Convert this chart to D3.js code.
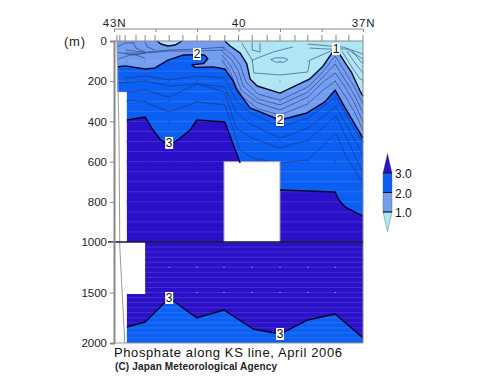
<!DOCTYPE html>
<meta charset="utf-8">
<style>
body { margin: 0; background: #fff; }
svg { display: block; }
.axis path, .axis line { stroke: #888; }
.axis text { font-family: "Liberation Sans", sans-serif; font-size: 11.5px; fill: #222; }
.thin { fill: none; stroke: #1c2f66; stroke-width: 0.8px; stroke-opacity: 0.7; stroke-linejoin: round; }
.thick { fill: none; stroke: #06062a; stroke-width: 1.4px; stroke-linejoin: round; }
.tag text { font-family: "Liberation Sans", sans-serif; font-size: 12px; fill: #111; text-anchor: middle; }
</style>
<svg width="500" height="387"></svg>
<script src="https://d3js.org/d3.v7.min.js"></script>
<script>

// every contour is a list of [latitude, depth in m]
var iso10East = [[40.33,0],[40.2,25],[39.96,60],[39.8,114],[39.72,189],[39.55,224],[39,259],[38.28,189],[37.96,124],[37.75,60],[37.65,30],[37.58,60],[37.43,109],[37.27,159],[37.07,249],[37,274]];
var iso10West = [[41.96,0],[41.87,15],[41.7,25],[41.53,20],[41.36,0]];
var iso20 = [[42.9,128],[42.73,124],[42.25,139],[42.01,134],[41.7,95],[41.34,70],[41,68],[40.82,70],[40.74,88],[40.84,112],[41.12,119],[41.05,131],[40.61,129],[40.33,139],[40.13,199],[40.04,244],[39.72,333],[39,393],[38.35,358],[37.92,303],[37.67,244],[37.43,333],[37,483]];
var iso30West = [[42.69,393],[42.25,378],[42.06,443],[41.87,493],[41.67,517],[41.46,493],[41.17,443],[41,393],[40.33,403],[39.96,607]];
var iso30East = [[39,741],[37.67,751],[37.58,791],[37.43,826],[37,871]];
var iso30Deep = [[42.69,1842],[42.25,1792],[41.67,1554],[41,1752],[40.35,1673],[39.65,1861],[39,1911],[38.33,1772],[37.67,1713],[37,1950]];

var thinLines = [
  // 1.2 to 1.8
  [[40.4,30],[40.16,65],[39.96,119],[39.82,204],[39.53,264],[39,294],[38.33,229],[37.99,159],[37.67,75],[37.43,154],[37.22,224],[37,313]],
  [[40.4,50],[40.18,90],[40.01,144],[39.89,224],[39.53,289],[39,318],[38.33,254],[37.99,184],[37.67,114],[37.43,194],[37.22,264],[37,358]],
  [[40.4,70],[40.2,119],[40.06,174],[39.94,244],[39.53,308],[39,343],[38.33,279],[37.99,209],[37.67,159],[37.43,229],[37.22,303],[37,403]],
  [[40.4,95],[40.2,154],[40.06,224],[39.89,279],[39.53,338],[39,368],[38.33,313],[37.99,249],[37.67,199],[37.43,274],[37.22,348],[37,443]],
  // 2.2 to 2.8
  [[42.73,184],[42.25,174],[41.67,194],[41,174],[40.33,184],[40.06,293],[39.72,358],[39,428],[38.33,383],[37.65,279],[37.43,358],[37,507]],
  [[42.9,209],[42.25,199],[41.67,224],[41,214],[40.33,229],[40.06,353],[39.72,413],[39,483],[38.33,433],[37.65,328],[37.43,408],[37,567]],
  [[42.9,259],[42.25,244],[41.67,279],[41,214],[40.33,254],[40.06,433],[39.67,483],[39,532],[38.33,493],[37.65,373],[37.43,468],[37,657]],
  [[42.69,294],[42.25,303],[41.67,353],[41,303],[40.33,318],[39.96,542],[39.67,582],[39,607],[38.33,592],[37.65,458],[37.43,567],[37,706]],
  // inside the low phosphate water
  [[39.92,10],[39.67,95],[39.17,55],[38.69,30]],
  [[39.67,5],[39.67,45],[39.48,55],[39.48,10]],
  [[39.67,95],[39.63,159],[39,169],[38.33,154],[38.28,95],[37.72,45]],
  [[39.22,92],[39.11,84],[38.9,84],[38.81,92],[38.9,105],[39.11,105],[39.22,92]],
  [[38.33,15],[37.8,25],[37.48,30],[37,65]],
  [[38.28,35],[37.87,40],[37.39,40],[37,90]],
  [[37.51,50],[37.24,139],[37.07,189],[37,194]],
  [[37.39,50],[37.14,124],[37,159]],
  [[37.27,45],[37.07,100],[37,114]],
  // the mixed corner near 43N
  [[42.93,30],[42.73,10],[42.54,10]],
  [[42.73,45],[42.25,55],[41.67,45],[41,40],[40.33,30]],
  [[42.73,60],[42.25,60],[41.67,50],[41,50],[40.33,45]],
  [[42.93,55],[42.54,70],[42.25,60]],
  [[42.54,5],[42.47,35],[42.25,55]],
  [[42.25,5],[42.2,30],[42.01,45]],
  [[42.9,90],[42.54,65],[42.25,85]]
];

var stationLat = [42.69,42.25,41.67,41,40.35,39.67,39,38.33,37.67,37];
var sampleDepth = [100,200,300,400,500,600,800];
var deepDepth = [1250,1500];
var stripeDepth = d3.range(50,2000,50);
var missing = [[43.1,42.93,0,2000],[43.1,42.69,254,1000],[43.1,42.25,1000,1515],[43.1,42.69,1515,2000]];
var boxGap = [[40.35,39,600,1000]];
var bottomLine = [[42.93,0],[42.88,450],[42.86,1050],[42.74,2000]];

var latMajor = [43,42,41,40,39,38,37];
var latLabels = {43:"43N",42:"",41:"",40:"40",39:"",38:"",37:"37N"};
var latStations = [42.93,42.86,42.73,42.47,42.25,42.01,41.67,41.34,41,40.69,40.33,40,39.67,39.31,39,38.64,38.33,37.99,37.65,37.34,37];
var depthTicks = [0,200,400,600,800,1000,1500,2000];
var contourTags = [["2",41,65],["1",37.65,40],["2",39,393],["3",41.67,507],["3",41.67,1554],["3",39,1911]];
var barTicks = [3,2,1];
var barLevels = [[3,4,"#2a10c8"],[2,3,"#0b5ff2"],[1,2,"#739df0"],[0,1,"#aee6f5"]];

var svg = d3.select("svg");
var x = d3.scaleLinear().domain([43,37]).range([114,363]);
var y = d3.scaleLinear().domain([0,1000,2000]).range([41,242,343]);
var bar = d3.scaleLinear().domain([1,3]).range([212,173]);
var line = d3.line().x(function(d) { return x(d[0]); }).y(function(d) { return y(d[1]); });

function gapRects(data, stroke) {
  plot.selectAll(null).data(data).enter().append("rect")
    .attr("x",function(d) { return x(d[0]); }).attr("y",function(d) { return y(d[2]); })
    .attr("width",function(d) { return x(d[1])-x(d[0]); }).attr("height",function(d) { return y(d[3])-y(d[2]); })
    .attr("fill","#fff").attr("stroke",stroke);
}

// filled layers, painted shallow to deep
var plot = svg.append("g");
plot.append("rect").attr("x",x(43)).attr("y",y(0)).attr("width",x(37)-x(43)).attr("height",y(2000)-y(0)).attr("fill","#739df0");
plot.append("path").attr("fill","#0b5ff2").attr("d",line(iso20.concat([[37,2000],[42.9,2000]])));
plot.append("path").attr("fill","#2a10c8").attr("d",line(iso30West.concat(iso30East,[[37,1950]],iso30Deep.slice().reverse())));
plot.append("path").attr("fill","#aee6f5").attr("d",line(iso10East.concat([[37,0]])));
plot.append("path").attr("fill","#aee6f5").attr("d",line(iso10West));

plot.selectAll(".stripe").data(stripeDepth).enter().append("line")
  .attr("x1",x(43)).attr("x2",x(37)).attr("y1",function(d) { return y(d); }).attr("y2",function(d) { return y(d); })
  .attr("stroke","#fff").attr("stroke-opacity",0.13);

plot.selectAll(".thin").data(thinLines).enter().append("path").attr("class","thin").attr("d",line);

// missing data goes over the fills
gapRects(missing, "none");
gapRects(boxGap, "#9a9cc0");

plot.selectAll(".thick").data([iso10East,iso10West,iso20,iso30West,iso30East,iso30Deep]).enter().append("path").attr("class","thick").attr("d",line);

// sample dots
sampleDepth.forEach(function(dp) {
  plot.selectAll(null).data(stationLat.filter(function(s) { return dp < 600 || s > 40.4 || s < 39; })).enter().append("rect")
    .attr("x",function(d) { return x(d)-0.5; }).attr("y",y(dp)-0.5).attr("width",1).attr("height",1).attr("fill","#10103a").attr("opacity",0.6);
});
deepDepth.forEach(function(dp) {
  plot.selectAll(null).data(stationLat.filter(function(s) { return dp > 1300 || s < 42.25; })).enter().append("rect")
    .attr("x",function(d) { return x(d)-0.5; }).attr("y",y(dp)-0.5).attr("width",1).attr("height",1).attr("fill","#fff").attr("opacity",0.8);
});

// frame
svg.append("line").attr("x1",x(37)).attr("x2",x(37)).attr("y1",y(0)).attr("y2",y(2000)).attr("stroke","#888");
svg.append("line").attr("x1",x(43)).attr("x2",x(37)).attr("y1",y(0)).attr("y2",y(0)).attr("stroke","#888");
svg.append("line").attr("x1",x(43)).attr("x2",x(37)).attr("y1",y(2000)).attr("y2",y(2000)).attr("stroke","#999");
svg.append("path").attr("d",line(bottomLine)).attr("fill","none").attr("stroke","#999");
svg.append("line").attr("x1",108).attr("x2",x(37)).attr("y1",y(1000)).attr("y2",y(1000)).attr("stroke","#1a1a2a").attr("stroke-width",1.4);

var yAxis = svg.append("g").attr("class","axis").attr("transform","translate("+x(43)+",0)")
  .call(d3.axisLeft(y).tickValues(depthTicks).tickSize(4).tickPadding(3).tickFormat(d3.format("d")));
yAxis.select("path").attr("stroke-width",2);

var topAxis = svg.append("g").attr("class","axis").attr("transform","translate(0,29)")
  .call(d3.axisTop(x).tickValues(latMajor).tickSize(-3).tickPadding(3).tickFormat(function(d) { return latLabels[d]; }));
topAxis.select("path").attr("d","M"+x(43)+",0H"+x(37));
topAxis.selectAll("text").attr("y",-2).style("letter-spacing","0.8px");

svg.selectAll(".station").data(latStations).enter().append("line")
  .attr("x1",function(d) { return x(d); }).attr("x2",function(d) { return x(d); })
  .attr("y1",35).attr("y2",41).attr("stroke","#888");

// contour labels
var tags = svg.selectAll(".tag").data(contourTags).enter().append("g").attr("class","tag")
  .attr("transform",function(d) { return "translate("+x(d[1])+","+y(d[2])+")"; });
tags.append("rect").attr("x",-4).attr("y",-6).attr("width",8).attr("height",12).attr("fill","#fff");
tags.append("text").attr("y",4).text(function(d) { return d[0]; });

// colour bar
var barL = 383, barR = 392, barMid = 387.5;
barLevels.forEach(function(l) {
  var top = bar(l[1]), bot = bar(l[0]);
  var d;
  if (l[1] == 4) d = "M"+barL+","+bot+"L"+barMid+","+top+"L"+barR+","+bot+"Z";
  else if (l[0] == 0) d = "M"+barL+","+top+"L"+barMid+","+bot+"L"+barR+","+top+"Z";
  else d = "M"+barL+","+top+"H"+barR+"V"+bot+"H"+barL+"Z";
  svg.append("path").attr("d",d).attr("fill",l[2]).attr("stroke","#556").attr("stroke-width",0.4);
});
svg.selectAll(".barline").data(barTicks).enter().append("line")
  .attr("x1",barL).attr("x2",barR).attr("y1",function(d) { return bar(d); }).attr("y2",function(d) { return bar(d); })
  .attr("stroke","#111");
svg.selectAll(".barlabel").data(barTicks).enter().append("text")
  .attr("x",395).attr("y",function(d) { return bar(d)+5; })
  .attr("font-family","Liberation Sans, sans-serif").attr("font-size",12).attr("fill","#111")
  .text(function(d) { return d.toFixed(1); });

// captions
svg.append("text").attr("x",64).attr("y",46).attr("font-family","Liberation Sans, sans-serif").attr("font-size",13).attr("fill","#222")
  .attr("textLength",21).text("(m)");
svg.append("text").attr("x",114).attr("y",357).attr("font-family","Liberation Sans, sans-serif").attr("font-size",13).attr("fill","#111")
  .attr("textLength",228).attr("lengthAdjust","spacing").text("Phosphate along KS line, April 2006");
svg.append("text").attr("x",115).attr("y",370).attr("font-family","Liberation Sans, sans-serif").attr("font-size",10).attr("font-weight","bold").attr("fill","#222")
  .attr("textLength",162).attr("lengthAdjust","spacing").text("(C) Japan Meteorological Agency");

</script>
